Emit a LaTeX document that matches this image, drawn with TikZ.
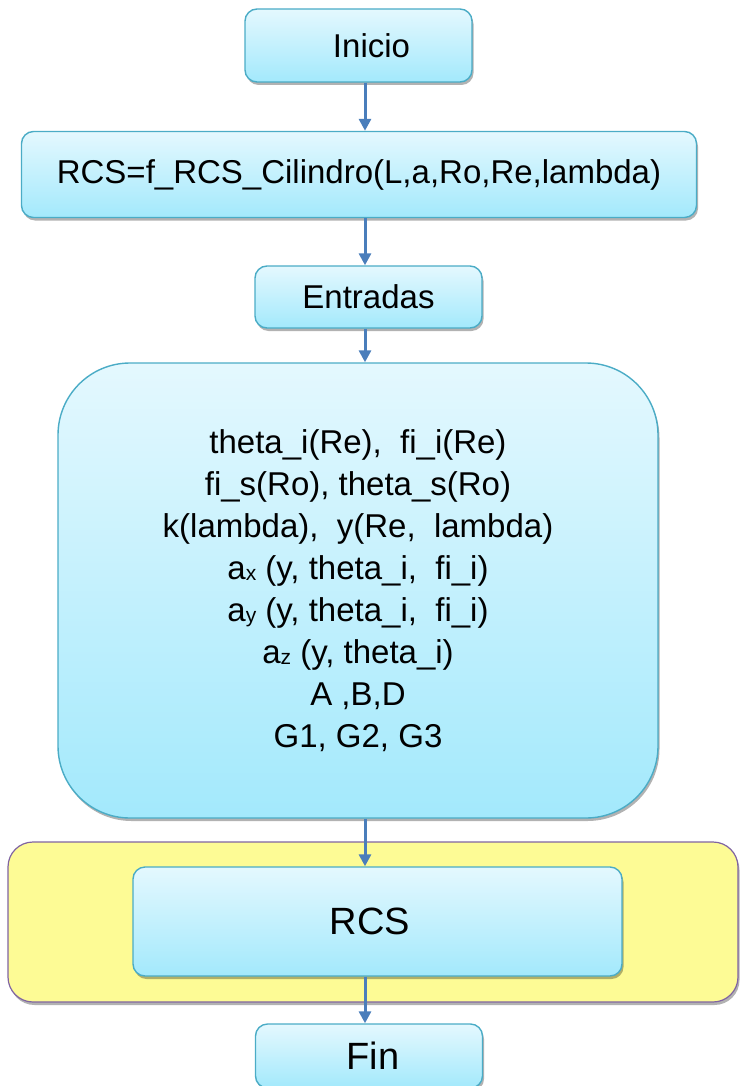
\documentclass[tikz,border=0pt]{standalone}
\usepackage{fontspec}
\setmainfont{Liberation Sans}
\usetikzlibrary{shadows,arrows.meta}
\definecolor{boxtop}{HTML}{E4F8FE}
\definecolor{boxbot}{HTML}{A3E9FC}
\definecolor{boxedge}{HTML}{4BACC6}
\definecolor{flowblue}{HTML}{4A7EBB}
\definecolor{groupfill}{HTML}{FDFB95}
\definecolor{groupedge}{HTML}{8064A2}
% small lowered index letter after a symbol
\newcommand\idx[1]{\raisebox{-1pt}{\fontsize{21}{21}\selectfont #1}}
\begin{document}
\begin{tikzpicture}[x=1pt,y=-1pt,
  flowbox/.style={draw=boxedge, line width=1.4pt, rounded corners=12pt,
    top color=boxtop, bottom color=boxbot, inner sep=0pt,
    drop shadow={shadow xshift=1.5pt, shadow yshift=-3pt, opacity=0.3, fill=black},
    font=\fontsize{33}{42}\selectfont, align=center},
  bigtext/.style={font=\fontsize{38}{42}\selectfont},
  flow/.style={draw=flowblue, line width=3pt, -{Triangle[length=12pt,width=12pt]}}]
  \useasboundingbox (0,0) rectangle (739,1086);

  % yellow group around the result
  \draw[groupedge, line width=1.2pt, fill=groupfill, rounded corners=25pt,
    drop shadow={shadow xshift=1.5pt, shadow yshift=-3pt, opacity=0.3, fill=black}]
    (8,842) rectangle (738,1002);

  \node[flowbox, minimum width=227pt, minimum height=73pt] (start) at (358.5,45.5) {\hspace*{26pt}Inicio};
  \node[flowbox, minimum width=675pt, minimum height=86pt] (func) at (359,174.5) {RCS=f\_RCS\_Cilindro(L,a,Ro,Re,lambda)};
  \node[flowbox, minimum width=227pt, minimum height=62pt] (inputs) at (368.5,297) {Entradas};
  \node[flowbox, rounded corners=72pt, minimum width=600pt, minimum height=455pt] (calc) at (358,590.5)
    {theta\_i(Re),\ \ fi\_i(Re)\\
     fi\_s(Ro), theta\_s(Ro)\\
     k(lambda),\ \ y(Re,\ \ lambda)\\
     a\idx{x} (y, theta\_i,\ \ fi\_i)\\
     a\idx{y} (y, theta\_i,\ \ fi\_i)\\
     a\idx{z} (y, theta\_i)\\
     A ,B,D\\
     G1, G2, G3};
  \node[flowbox, bigtext, minimum width=489pt, minimum height=109pt] (rcs) at (377.5,921.5) {\hspace*{-15pt}RCS};
  \node[flowbox, bigtext, minimum width=227pt, minimum height=64pt] (fin) at (369,1056) {\hspace*{8pt}Fin};

  \coordinate (axis) at (365,0);
  \draw[flow] (start.south -| axis) -- (func.north -| axis);
  \draw[flow] (func.south -| axis) -- (inputs.north -| axis);
  \draw[flow] (inputs.south -| axis) -- (calc.north -| axis);
  \draw[flow] (calc.south -| axis) -- (rcs.north -| axis);
  \draw[flow] (rcs.south -| axis) -- (fin.north -| axis);
\end{tikzpicture}
\end{document}
